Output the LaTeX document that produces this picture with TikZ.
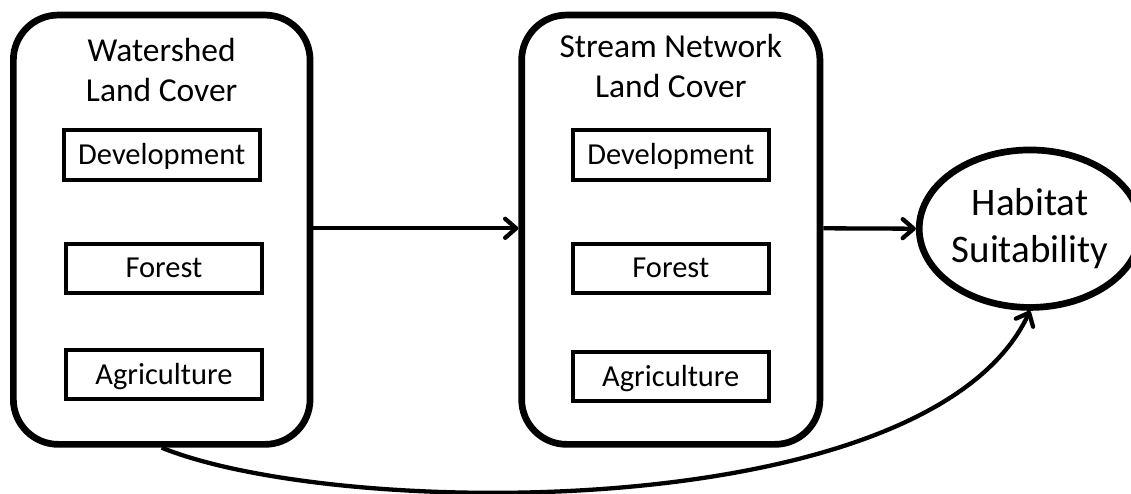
\documentclass[tikz,border=0pt]{standalone}
\usepackage{fontspec}
\setmainfont{Carlito}
\usetikzlibrary{shapes.geometric,arrows.meta}
\begin{document}
\begin{tikzpicture}[x=1pt,y=-1pt,
  bigbox/.style={draw,line width=6.7pt,rounded corners=45pt,minimum width=296.7pt,minimum height=429.3pt,inner sep=0pt},
  smallbox/.style={draw,line width=4pt,minimum width=196pt,minimum height=49.5pt,inner sep=0pt,
    font=\fontsize{30.5}{36}\selectfont,text height=19.3pt,text depth=0pt},
  title/.style={align=center,inner sep=0pt,font=\fontsize{33.5}{40}\selectfont},
  arr/.style={line width=4.3pt,-{Straight Barb[length=11pt,width=19pt,line cap=round,line join=round]}}
]
\useasboundingbox (0,0) rectangle (1131,494);
% left big box
\node[bigbox] (wbox) at (161.7,229.7) {};
\node[title] (wtitle) at (161.7,69.5) {Watershed\\Land Cover};
\node[smallbox] (wdev) at (161.7,155) {Development};
\node[smallbox] (wfor) at (164,268.3) {Forest};
\node[smallbox] (wagr) at (164,374.7) {Agriculture};
% middle big box
\node[bigbox,minimum width=298.3pt] (sbox) at (670.8,229.7) {};
\node[title] (stitle) at (670.8,65.5) {Stream Network\\Land Cover};
\node[smallbox] (sdev) at (670.8,155) {Development};
\node[smallbox] (sfor) at (670.8,268.3) {Forest};
\node[smallbox] (sagr) at (670.8,376.7) {Agriculture};
% habitat
\node[ellipse,draw,line width=6.7pt,minimum width=196pt,minimum height=157.5pt,inner sep=0pt,
  align=center,font=\fontsize{39}{47}\selectfont] (hab) at (1030,228.7) {Habitat\\Suitability};
% connectors
\draw[arr] (wbox.east |- 0,228.3) -- (sbox.west |- 0,228.3);
\draw[arr] (sbox.east |- 0,228.3) -- (hab.west);
\draw[arr] (wbox.south) .. controls (340,520) and (930,525) .. (hab.south);
\end{tikzpicture}
\end{document}
